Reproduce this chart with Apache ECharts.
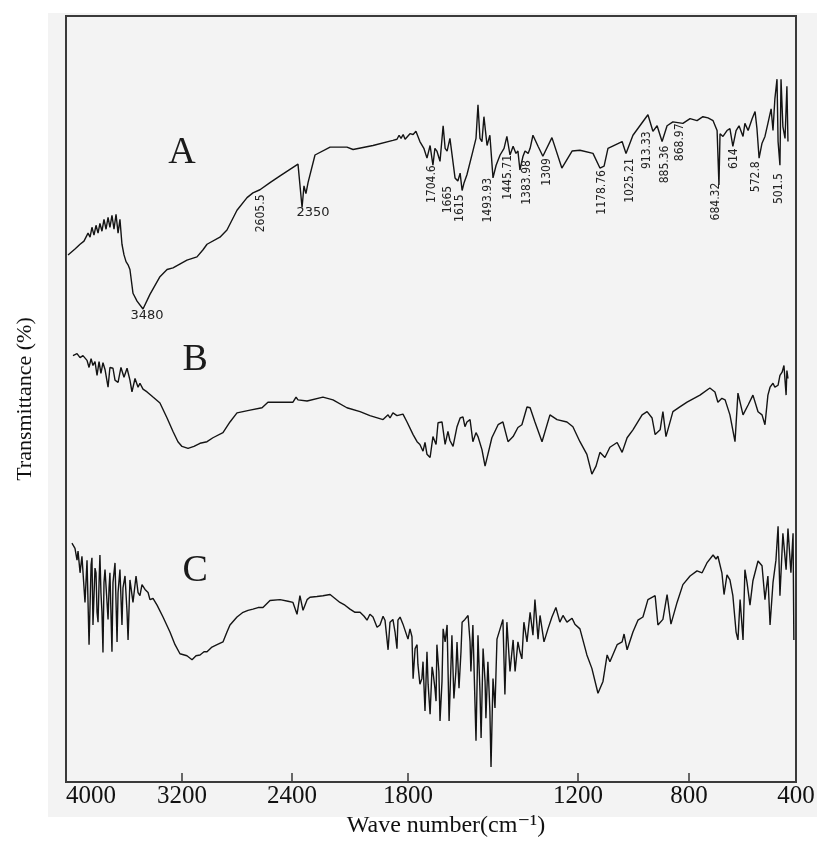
<!DOCTYPE html>
<html>
<head>
<meta charset="utf-8">
<script src="https://cdn.jsdelivr.net/npm/echarts@6/dist/echarts.min.js"></script>
<style>
html,body{margin:0;padding:0;background:#fff;}
#chart{width:826px;height:843px;}
</style>
</head>
<body>
<div id="chart"></div>
<script>
// ---- data ----
const tickWn = [4000, 3200, 2400, 1800, 1200, 800, 400];
const seriesNames = ['A', 'B', 'C'];

const specA = [
[3986,66.75],[3938,67.5],[3903,68.1],[3876,68.5],[3848,69.5],[3834,69],[3821,70.25],[3807,69.25],[3793,70.5],[3779,69.5],[3766,70.75],[3752,69.75],[3738,71.25],[3724,70],[3710,71.5],[3697,70.25],[3683,71.75],[3669,70],[3655,71.9],[3641,69.5],[3628,71.25],[3614,68.1],[3600,66.75],[3586,65.9],[3572,65.5],[3559,64.9],[3538,61.9],[3510,60.9],[3469,59.9],[3421,61.75],[3352,64],[3303,64.9],[3262,65.1],[3164,66.1],[3091,66.5],[3047,67.4],[3018,68.1],[2924,69],[2873,69.9],[2800,72.4],[2727,74],[2684,74.6],[2633,75],[2560,75.9],[2487,76.75],[2369,78.25],[2348,72.75],[2338,75.5],[2328,74.5],[2317,75.9],[2281,79.4],[2203,80.4],[2116,80.4],[2084,80.1],[1981,80.6],[1878,81.25],[1857,81.4],[1846,81.9],[1836,81.5],[1825,82],[1815,81.4],[1805,81.5],[1793,82.1],[1782,82],[1772,82.4],[1765,82.4],[1758,81.1],[1744,80.25],[1733,79],[1722,80.6],[1712,78.1],[1705,80.25],[1698,79.9],[1687,78.6],[1676,83.1],[1669,80.25],[1662,79.9],[1652,81.5],[1645,81.75],[1634,76.5],[1624,76.1],[1616,77.1],[1609,74.9],[1602,75.9],[1592,76.9],[1571,79.9],[1560,81.5],[1553,85.75],[1546,81.5],[1539,81.1],[1532,84.25],[1521,80.6],[1511,81.9],[1500,76.5],[1489,78.1],[1475,79.4],[1461,80.25],[1451,81.75],[1440,79.4],[1429,80.5],[1419,79.6],[1412,79.9],[1405,77.5],[1394,79.25],[1387,79.9],[1376,79.6],[1369,80.25],[1359,81.9],[1341,80.5],[1324,79.25],[1292,81.6],[1257,77.75],[1221,79.9],[1193,80],[1146,79.6],[1121,77.75],[1106,78],[1092,80.25],[1041,81.1],[1027,79.6],[1002,81.9],[948,84.5],[930,82.4],[915,83.1],[897,81.1],[879,83.1],[858,83.6],[822,83.4],[796,84],[770,83.75],[748,84.25],[729,84.1],[710,83.75],[695,82.5],[688,75.6],[684,82.1],[673,81.75],[658,82.5],[647,82.75],[636,80.5],[624,82.5],[613,83.1],[598,81.75],[591,83.4],[579,82.5],[564,84],[553,84.9],[546,82.75],[538,79],[527,80.9],[516,81.75],[505,83.4],[493,85.25],[486,82.5],[479,86.5],[471,89],[467,81.1],[460,78.1],[456,89],[449,83],[441,81.5],[434,88.1],[430,81.1]
];

const specB = [
[3952,54],[3924,54.25],[3903,53.75],[3883,54],[3855,53.4],[3841,52.5],[3827,53.6],[3814,52.75],[3800,53.25],[3786,51.5],[3772,53.25],[3759,51.75],[3745,53.1],[3731,52.25],[3710,50],[3697,52.5],[3676,52.4],[3662,50.9],[3641,50.6],[3621,52.5],[3600,51.25],[3579,52.4],[3559,50.9],[3545,49.4],[3524,51.1],[3503,50],[3490,50.5],[3469,49.75],[3441,49.4],[3400,48.75],[3352,48],[3303,46.1],[3262,44.4],[3228,43.1],[3200,42.5],[3156,42.25],[3113,42.5],[3069,42.9],[3018,43.1],[2975,43.6],[2902,44.25],[2851,45.6],[2800,46.75],[2705,47.1],[2618,47.4],[2575,48.1],[2487,48.1],[2395,48.1],[2379,48.75],[2369,48.4],[2322,48.25],[2240,48.75],[2188,48.4],[2116,47.4],[2048,46.9],[1997,46.4],[1929,45.9],[1903,46.5],[1893,46.1],[1878,46.75],[1857,46.4],[1826,46.6],[1805,45.6],[1782,44],[1768,43.1],[1758,42.75],[1747,41.9],[1740,43],[1733,41.5],[1722,41.1],[1712,43.75],[1701,42.75],[1694,45.5],[1680,45.6],[1669,42.75],[1659,44.4],[1652,43.25],[1641,42.5],[1627,45],[1616,46.1],[1606,46.25],[1599,45],[1592,45.6],[1581,45.9],[1571,43.1],[1560,44.25],[1553,43.75],[1539,42.1],[1528,40],[1518,41.5],[1504,43.6],[1482,45.25],[1465,45.6],[1447,43.1],[1429,43.75],[1412,44.9],[1398,45.25],[1380,47.5],[1369,47.4],[1352,45.6],[1327,43.1],[1299,46.5],[1274,45.9],[1239,45.6],[1218,45],[1193,43.1],[1168,41.5],[1150,39],[1135,40],[1121,41.75],[1103,41.1],[1085,42.4],[1059,43],[1041,41.75],[1023,43.6],[1002,44.6],[969,46.5],[951,46.9],[933,46.1],[922,44],[904,44.6],[894,46.9],[883,43.75],[858,46.9],[833,47.5],[807,48.1],[759,49],[722,49.9],[703,49.4],[692,48.1],[677,48.6],[665,48.4],[647,46.5],[628,43.1],[617,49.25],[598,46.5],[579,47.75],[561,49],[542,46.9],[527,46.5],[516,45.25],[505,49],[497,50],[486,50.5],[479,50],[467,50.25],[460,51.5],[452,51.9],[445,52.75],[437,49],[434,52.1],[430,51.1]
];

const specC = [
[3959,30.25],[3938,29.6],[3924,28.1],[3917,29.25],[3903,26.5],[3890,28.6],[3869,22.75],[3855,28.1],[3841,17.4],[3827,27.5],[3821,28.4],[3814,19.9],[3800,27.1],[3793,26.5],[3786,21.5],[3779,20.25],[3772,25.25],[3766,28.75],[3759,24],[3752,21.5],[3745,16.4],[3738,25.25],[3731,26.9],[3717,22.75],[3710,20.6],[3703,24.6],[3697,26.5],[3683,16.5],[3676,25.25],[3662,27.75],[3648,17.75],[3641,24],[3628,26.9],[3614,19.9],[3607,24.6],[3593,26.1],[3579,21.5],[3572,18],[3559,25.6],[3538,22.75],[3517,26.1],[3503,24],[3490,23.6],[3476,25],[3455,24.4],[3434,24],[3421,23.1],[3400,23.25],[3372,22.4],[3331,20.9],[3283,19],[3248,17.4],[3214,16.25],[3164,16],[3127,15.5],[3098,16],[3069,16.1],[3040,16.5],[3018,16.5],[2982,17.1],[2945,17.4],[2902,17.75],[2873,19],[2851,19.9],[2800,20.9],[2756,21.5],[2720,21.75],[2684,21.9],[2647,22.1],[2611,22.1],[2560,23],[2487,23.1],[2429,22.9],[2395,22.75],[2374,21.25],[2359,23.6],[2343,21.75],[2322,23.1],[2307,23.4],[2271,23.5],[2240,23.6],[2203,23.75],[2152,22.75],[2126,22.4],[2100,21.9],[2074,21.5],[2048,21.5],[2027,21],[2012,20.5],[1997,21.25],[1981,20.9],[1960,19.6],[1945,19.9],[1929,21],[1919,20.5],[1903,16.75],[1893,20.25],[1878,20.6],[1867,19],[1857,16.9],[1852,20.5],[1841,20.9],[1826,20],[1816,19.9],[1800,18.1],[1793,19.4],[1786,18.4],[1782,13.1],[1775,16.9],[1768,17.4],[1765,14.9],[1758,12.4],[1751,13.1],[1747,15.25],[1740,9],[1733,16.5],[1729,12.4],[1722,8.6],[1715,14.6],[1712,14],[1705,11.9],[1701,10.25],[1698,17.4],[1691,14],[1687,7.75],[1680,12.75],[1676,19.4],[1669,17.75],[1662,19.9],[1655,7.75],[1648,15.25],[1645,18.6],[1638,10.6],[1631,14],[1627,17.75],[1620,11.9],[1613,16.5],[1609,20.25],[1599,20.6],[1588,21.1],[1581,17.75],[1578,14],[1571,19.9],[1560,5.25],[1553,18.6],[1546,11.5],[1542,5.6],[1535,16.9],[1528,12.75],[1525,8.1],[1518,15.25],[1511,9],[1507,1.9],[1500,13.1],[1493,9.4],[1486,18.1],[1475,19.4],[1465,20.6],[1458,11.1],[1451,20.25],[1440,14],[1429,18],[1422,14],[1412,17.75],[1405,16.5],[1398,15.6],[1391,20.25],[1380,17.75],[1369,21.5],[1359,18.6],[1352,23.1],[1341,18.1],[1334,21.1],[1320,17.75],[1306,19.4],[1292,20.9],[1278,22.1],[1264,20.25],[1253,21.1],[1239,20.25],[1221,20.75],[1211,20],[1193,19.4],[1168,16.1],[1150,14.4],[1128,11.25],[1110,12.75],[1095,16.1],[1085,15.25],[1059,17.4],[1041,17.75],[1034,18.75],[1023,16.75],[1002,19],[984,20.5],[966,20.9],[948,23.1],[922,23.6],[912,19.9],[894,20.6],[879,23.75],[865,20],[843,22.75],[822,25],[796,26.1],[770,26.75],[751,26.5],[733,27.75],[710,28.75],[699,28.25],[692,28.6],[677,26.5],[669,23.75],[658,26.25],[647,25.6],[636,23.6],[624,19],[617,18],[609,23.1],[598,18],[591,26.9],[583,25.25],[572,22.4],[561,25.5],[542,28],[527,27.4],[516,23.1],[505,26.1],[497,19.9],[486,25.25],[475,28.1],[467,32.4],[460,23.6],[449,31.5],[437,26.9],[430,32.1],[419,26.5],[411,31.5],[408,18]
];

// peak annotations on spectrum A: text, anchor wavenumber, anchor transmittance
const peakText = ['3480','2350','2605.5','1704.6','1665','1615','1493.93','1445.71','1383.98','1309','1178.76','1025.21','913.33','885.36','868.97','684.32','614','572.8','501.5'];
const peakAtWn = [3441, 2291, 2625, 1715, 1659, 1616, 1518, 1447, 1380, 1309, 1113, 1013, 951, 886, 832, 699, 632, 550, 464];
const peakAtT  = [59.0, 72.1, 74.4, 78.1, 75.5, 74.4, 76.5, 79.4, 78.75, 79, 77.5, 79, 82.4, 80.6, 83.4, 75.9, 80.25, 78.6, 77.1];

// series letter labels: anchor wavenumber, transmittance
const nameAtWn = [3200, 3105, 3105];
const nameAtT  = [79.6, 53.5, 26.75];

// ---- axis scale (piecewise linear, as drawn in the original figure) ----
const axisKnotPos = [0, 116, 226, 342, 512, 623, 730];
function toAxis(w) {
  for (let i = 0; i < tickWn.length - 1; i++) {
    const a = tickWn[i], b = tickWn[i + 1];
    if (w <= a && w >= b) {
      return axisKnotPos[i] + (a - w) / (a - b) * (axisKnotPos[i + 1] - axisKnotPos[i]);
    }
  }
  return w > tickWn[0] ? axisKnotPos[0] : axisKnotPos[axisKnotPos.length - 1];
}
const tickPos = tickWn.map(toAxis);

const lineColor = '#141414';
const specs = [specA, specB, specC];
const horizontalPeaks = ['3480', '2350'];

const series = specs.map((spec, si) => {
  const s = {
    type: 'line',
    name: seriesNames[si],
    data: spec.map(p => [toAxis(p[0]), p[1]]),
    showSymbol: false,
    symbol: 'none',
    sampling: null,
    lineStyle: { color: lineColor, width: 1.4 },
    itemStyle: { color: lineColor },
    silent: true,
    animation: false,
    z: 3,
    markPoint: {
      symbol: 'circle', symbolSize: 0, silent: true, animation: false,
      data: [{
        coord: [toAxis(nameAtWn[si]), nameAtT[si]],
        label: {
          show: true, position: 'inside', formatter: seriesNames[si],
          fontFamily: "'Liberation Serif', 'DejaVu Serif', serif",
          fontSize: 38, color: '#1a1a1a', align: 'center', verticalAlign: 'middle'
        }
      }]
    }
  };
  if (si === 0) {
    peakText.forEach((t, i) => {
      const horiz = horizontalPeaks.indexOf(t) >= 0;
      s.markPoint.data.push({
        coord: [toAxis(peakAtWn[i]), peakAtT[i]],
        label: horiz ? {
          show: true, position: 'inside', formatter: t,
          fontFamily: "'DejaVu Sans', sans-serif", fontSize: 13, color: '#222',
          align: 'center', verticalAlign: 'middle'
        } : {
          show: true, position: 'inside', formatter: t, rotate: 90,
          fontFamily: "'Liberation Sans Narrow', 'DejaVu Sans Condensed', 'Liberation Sans', sans-serif",
          fontSize: 12, color: '#222', align: 'right', verticalAlign: 'middle'
        }
      });
    });
  }
  return s;
});

const chart = echarts.init(document.getElementById('chart'), null, { renderer: 'canvas' });
chart.setOption({
  animation: false,
  backgroundColor: '#ffffff',
  graphic: {
    elements: [{
      type: 'rect', silent: true, z: -10,
      shape: { x: 48, y: 13, width: 769, height: 804 },
      style: { fill: '#f3f3f3' }
    }]
  },
  grid: {
    left: 66, right: 30, top: 16, bottom: 51,
    show: true, borderColor: '#3a3a3a', borderWidth: 2, backgroundColor: '#f3f3f3'
  },
  xAxis: {
    type: 'value', min: 0, max: axisKnotPos[axisKnotPos.length - 1],
    axisLine: { show: true, onZero: false, lineStyle: { color: '#3a3a3a', width: 2 } },
    axisTick: {
      show: true, inside: true, length: 9,
      customValues: tickPos.slice(1, -1),
      lineStyle: { color: '#3a3a3a', width: 1.5 }
    },
    axisLabel: {
      customValues: tickPos,
      formatter: function (v) {
        for (let i = 0; i < tickPos.length; i++) {
          if (Math.abs(tickPos[i] - v) < 0.5) return String(tickWn[i]);
        }
        return '';
      },
      fontFamily: "'Liberation Serif', 'DejaVu Serif', serif",
      fontSize: 25, color: '#111', margin: 2,
      showMinLabel: true, showMaxLabel: true, alignMinLabel: 'left'
    },
    splitLine: { show: false },
    name: 'Wave number(cm\u207B\u00B9)',
    nameLocation: 'middle', nameGap: 31,
    nameTextStyle: {
      fontFamily: "'Liberation Serif', 'DejaVu Serif', serif",
      fontSize: 24, color: '#111', padding: [0, 0, 0, 30]
    }
  },
  yAxis: {
    type: 'value', min: 0, max: 97,
    axisLine: { show: true, lineStyle: { color: '#3a3a3a', width: 2 } },
    axisTick: { show: false },
    axisLabel: { show: false },
    splitLine: { show: false },
    name: 'Transmittance (%)',
    nameLocation: 'middle', nameGap: 30,
    nameTextStyle: {
      fontFamily: "'Liberation Serif', 'DejaVu Serif', serif",
      fontSize: 22, color: '#111'
    }
  },
  series: series
});
</script>
</body>
</html>
